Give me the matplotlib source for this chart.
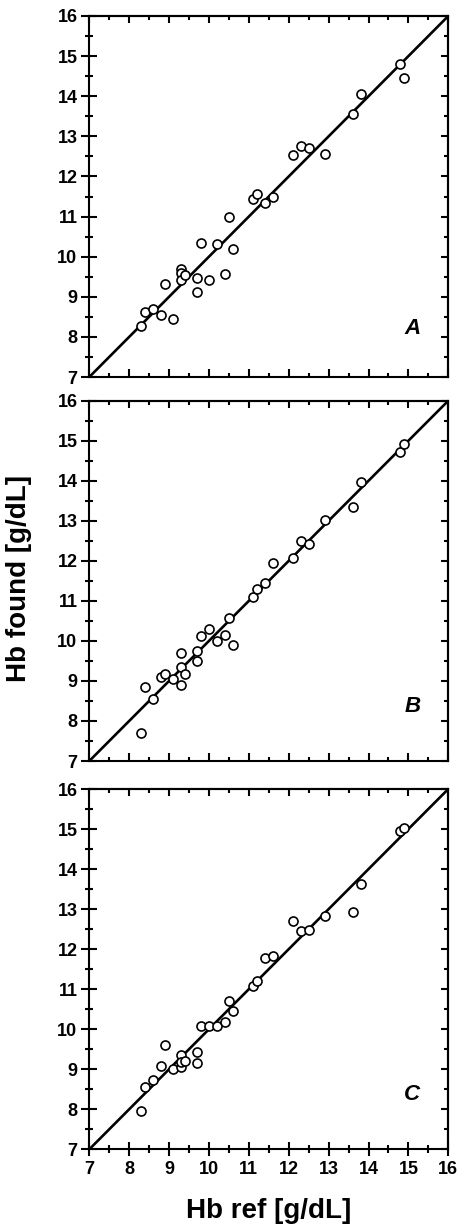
import matplotlib
matplotlib.use("Agg")
import matplotlib.pyplot as plt
from matplotlib.ticker import MultipleLocator

plt.rcParams['font.family'] = ['Liberation Sans', 'DejaVu Sans']
plt.rcParams['font.weight'] = 'bold'

hb_ref = [8.3, 8.4, 8.6, 8.8, 8.9, 9.1, 9.3, 9.3, 9.3, 9.4, 9.7, 9.7, 9.8, 10.0, 10.2,
          10.4, 10.5, 10.6, 11.1, 11.2, 11.4, 11.6, 12.1, 12.3, 12.5, 12.9, 13.6, 13.8, 14.8, 14.9]
found_A = [8.27, 8.62, 8.70, 8.55, 9.32, 8.44, 9.70, 9.60, 9.42, 9.54, 9.47, 9.13, 10.35, 9.43, 10.32,
           9.58, 11.00, 10.18, 11.45, 11.55, 11.33, 11.50, 12.54, 12.77, 12.72, 12.57, 13.56, 14.05, 14.80, 14.45]
found_B = [7.71, 8.86, 8.54, 9.09, 9.17, 9.04, 9.70, 9.34, 8.90, 9.17, 9.75, 9.50, 10.12, 10.29, 9.99,
           10.14, 10.57, 9.91, 11.09, 11.30, 11.44, 11.95, 12.08, 12.50, 12.43, 13.01, 13.34, 13.97, 14.71, 14.93]
found_C = [7.95, 8.56, 8.73, 9.08, 9.60, 9.00, 9.36, 9.05, 9.18, 9.21, 9.43, 9.16, 10.08, 10.08, 10.08,
           10.17, 10.70, 10.46, 11.07, 11.21, 11.77, 11.83, 12.71, 12.46, 12.49, 12.82, 12.93, 13.62, 14.96, 15.02]
panel_labels = ['A', 'B', 'C']
label_pos = [(15.1, 8.2), (15.1, 8.37), (15.1, 8.38)]
axis_lim = [7, 16]
tick_values = [7, 8, 9, 10, 11, 12, 13, 14, 15, 16]
tick_labels = ['7', '8', '9', '10', '11', '12', '13', '14', '15', '16']
x_label = 'Hb ref [g/dL]'
y_label = 'Hb found [g/dL]'

W, H = 462, 1226
fig = plt.figure(figsize=(W / 100, H / 100), dpi=100)

left_px, right_px = 89.3, 448.3
panels_px = [(16, 377), (400.7, 761), (789, 1149.3)]

for i, (found, lab, lpos, (top, bot)) in enumerate(zip([found_A, found_B, found_C],
                                                       panel_labels, label_pos, panels_px)):
    ax = fig.add_axes([left_px / W, 1 - bot / H, (right_px - left_px) / W, (bot - top) / H])
    ax.set_xlim(axis_lim)
    ax.set_ylim(axis_lim)
    ax.plot(axis_lim, axis_lim, color='black', lw=1.9, solid_capstyle='butt', zorder=2)
    ax.plot(hb_ref, found, linestyle='none', marker='o', ms=6.5, mfc='white',
            mec='black', mew=1.2, zorder=3)
    ax.text(lpos[0], lpos[1], lab, fontsize=16, fontweight='bold', fontstyle='italic',
            ha='center', va='center')
    for sp in ax.spines.values():
        sp.set_linewidth(1.5)
    ax.set_yticks(tick_values)
    ax.set_yticklabels(tick_labels, fontsize=13, fontweight='bold')
    ax.set_xticks(tick_values)
    if i == 2:
        ax.set_xticklabels(tick_labels, fontsize=13, fontweight='bold')
    else:
        ax.set_xticklabels([''] * len(tick_values))
    for a in (ax.xaxis, ax.yaxis):
        a.set_minor_locator(MultipleLocator(0.5))
    ax.tick_params(axis='y', which='major', direction='inout', length=11, width=1.5, pad=3)
    ax.tick_params(axis='y', which='minor', direction='inout', length=6, width=1.5)
    if i == 2:
        ax.tick_params(axis='x', which='major', direction='inout', length=10, width=1.5, pad=3.5)
        ax.tick_params(axis='x', which='minor', direction='inout', length=5.5, width=1.5)
    else:
        ax.tick_params(axis='x', which='major', direction='in', length=6, width=1.5,
                       labelbottom=False)
        ax.tick_params(axis='x', which='minor', direction='in', length=3, width=1.5)
    # top and right inward ticks
    secx = ax.secondary_xaxis('top')
    secy = ax.secondary_yaxis('right')
    for sec, axis in ((secx, secx.xaxis), (secy, secy.yaxis)):
        axis.set_major_locator(MultipleLocator(1))
        axis.set_minor_locator(MultipleLocator(0.5))
        sec.tick_params(which='major', direction='in', length=5, width=1.5,
                        labeltop=False, labelright=False)
        sec.tick_params(which='minor', direction='in', length=3, width=1.5)
        for sp in sec.spines.values():
            sp.set_linewidth(1.5)

fig.text(268.8 / W, 1 - 1211 / H, x_label, fontsize=20, fontweight='bold',
         ha='center', va='center')
fig.text(19.5 / W, 1 - 579 / H, y_label, fontsize=20, fontweight='bold',
         ha='center', va='center', rotation=90)

fig.savefig('out.png', dpi=100)
